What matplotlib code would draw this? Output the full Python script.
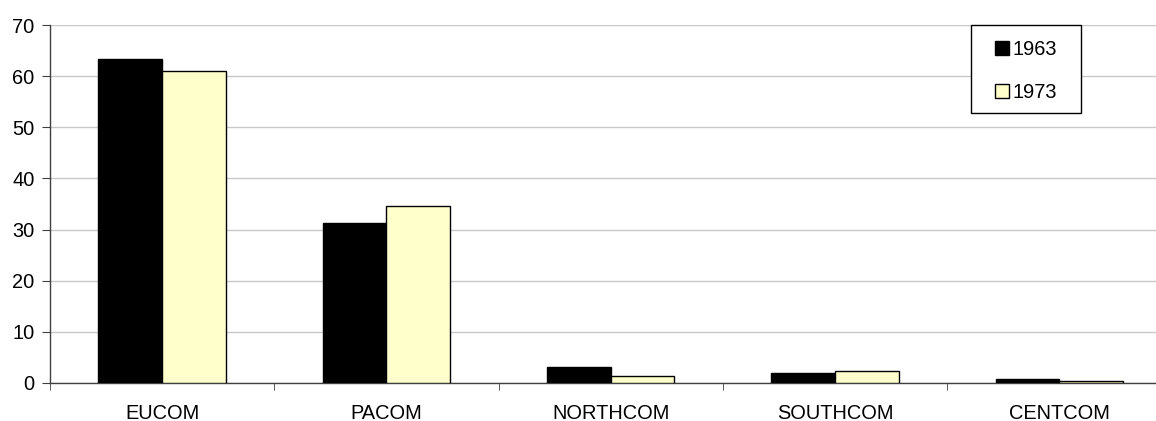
import numpy as np
import matplotlib.pyplot as plt
from matplotlib.patches import Patch, Rectangle

plt.rcParams['font.family'] = ['Liberation Sans', 'DejaVu Sans']

commands = ['EUCOM', 'PACOM', 'NORTHCOM', 'SOUTHCOM', 'CENTCOM']
share_1963 = [63.3, 31.3, 3.05, 1.95, 0.7]
share_1973 = [61.1, 34.7, 1.3, 2.4, 0.45]
years = ['1963', '1973']
colors = ['#000000', '#FFFFCC']

W, H = 1156, 421
fs = 14.4
fig = plt.figure(figsize=(W / 100, H / 100), dpi=100)
# axes run a bit past the right edge of the figure
ax = fig.add_axes([50 / W, 38 / H, 1121.5 / W, 358 / H])

x = np.arange(len(commands))
bw = 0.284
ax.bar(x - bw / 2, share_1963, bw, color=colors[0], edgecolor='black', linewidth=1, zorder=3)
ax.bar(x + bw / 2, share_1973, bw, color=colors[1], edgecolor='black', linewidth=1, zorder=3)

ax.set_xlim(-0.5, len(commands) - 0.5)
ax.set_ylim(0, 70)
ax.set_yticks(np.arange(0, 71, 10))
ax.yaxis.grid(True, color='#c8c8c8', linewidth=1, zorder=0)
ax.set_axisbelow(True)

ax.set_xticks(x)
ax.set_xticklabels(commands, fontsize=fs)
ax.set_xticks(np.arange(-0.5, len(commands)), minor=True)
ax.tick_params(axis='x', which='major', length=0, pad=15)
ax.tick_params(axis='x', which='minor', length=5, color='#404040')
ax.tick_params(axis='y', length=6, labelsize=fs, color='#404040', pad=5)

for s in ['top', 'right']:
    ax.spines[s].set_visible(False)
for s in ['left', 'bottom']:
    ax.spines[s].set_color('#404040')
    ax.spines[s].set_linewidth(1)

# legend box drawn separately so its padding can differ across and down
fig.patches.append(Rectangle((971 / W, 1 - 113 / H), 110 / W, 88 / H,
                             transform=fig.transFigure, facecolor='white',
                             edgecolor='black', linewidth=1, zorder=4))
handles = [Patch(facecolor=c, edgecolor='black', linewidth=1) for c in colors]
leg = fig.legend(handles, years, loc='upper left',
                 bbox_to_anchor=(995 / W, 1 - 40 / H), fontsize=fs,
                 handlelength=0.7, handleheight=0.7, handletextpad=0.2,
                 labelspacing=1.2, borderpad=0, borderaxespad=0,
                 frameon=False)
leg.set_zorder(5)

fig.savefig('out.png', dpi=100)
